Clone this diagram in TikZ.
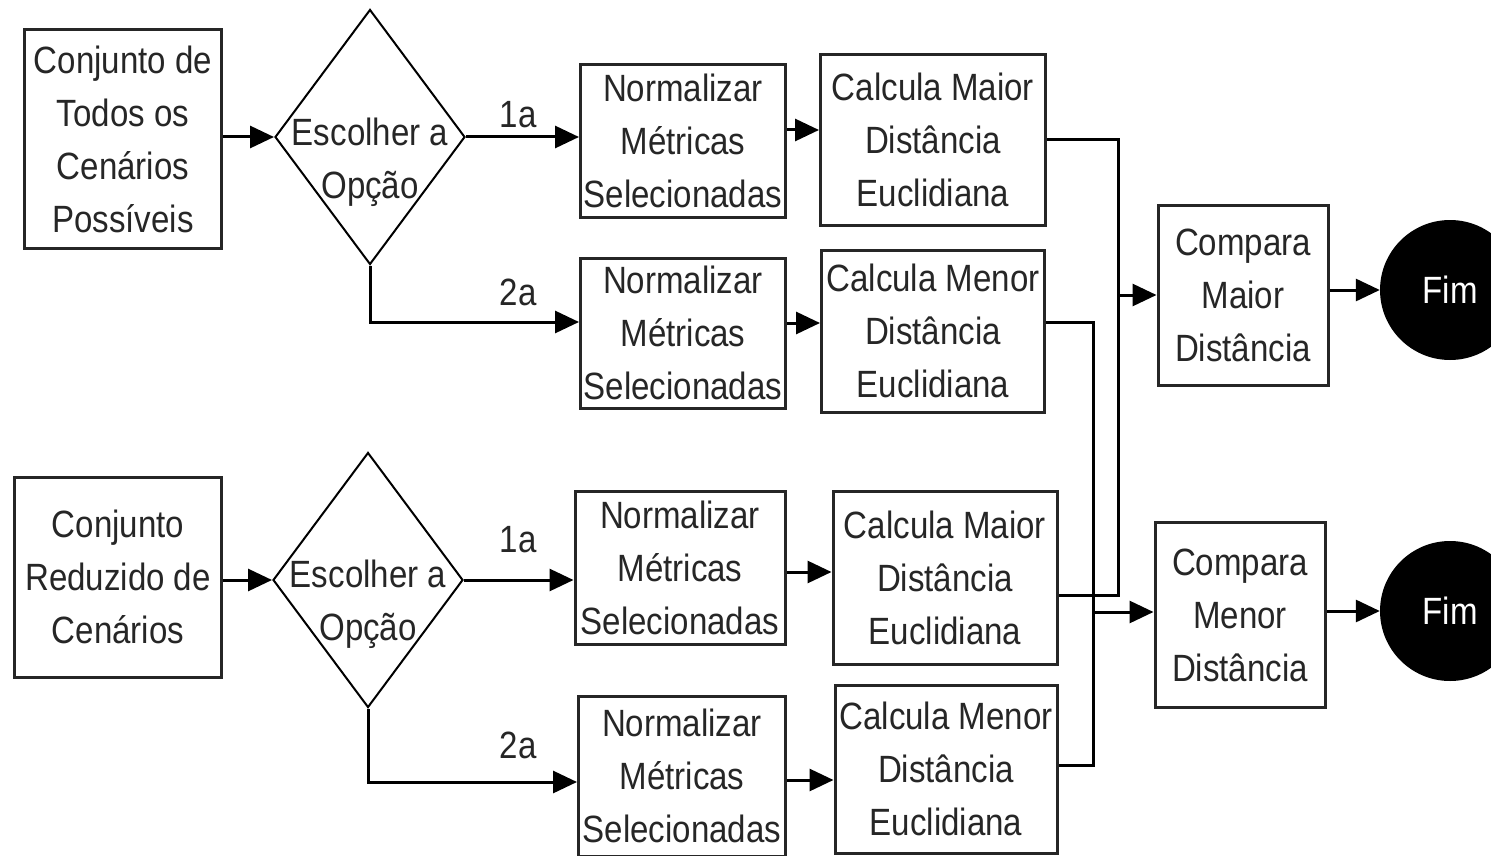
\documentclass[tikz,border=0pt]{standalone}
\usepackage{fontspec}
\setmainfont[FakeStretch=0.87]{Liberation Sans}
\usetikzlibrary{shapes.geometric,arrows.meta}
\begin{document}
\begin{tikzpicture}[x=1pt,y=-1pt,
  every node/.style={font=\fontsize{38}{53}\selectfont,text=black!85,align=center,inner sep=0pt},
  box/.style={draw=black!85,line width=3pt,fill=white},
  choice/.style={diamond,draw=black,line width=2pt,minimum width=190pt,minimum height=255pt},
  fim/.style={circle,fill=black,text=white,minimum size=140pt},
  line/.style={draw=black,line width=3pt},
  arr/.style={line,-{Triangle[length=24pt,width=22pt]}}]
\useasboundingbox (0,0) rectangle (1491,856);

% upper branch
\node[box,minimum width=197pt,minimum height=218pt] (a1) at (123,139) {Conjunto de\\Todos os\\Cenários\\Possíveis};
\node[choice] (d1) at (370,137) {};
\node (d1t) at (370,162) {Escolher a\\Opção};
\node[box,minimum width=205pt,minimum height=153pt] (n1) at (683,141) {Normalizar\\Métricas\\Selecionadas};
\node[box,minimum width=225pt,minimum height=170pt] (c1) at (933,140) {Calcula Maior\\Distância\\Euclidiana};
\node[box,minimum width=205pt,minimum height=150pt] (n2) at (683,333) {Normalizar\\Métricas\\Selecionadas};
\node[box,minimum width=223pt,minimum height=162pt] (c2) at (933,331) {Calcula Menor\\Distância\\Euclidiana};
\node (l1) at (518,115) {1a};
\node (l2) at (518,292) {2a};

% lower branch
\node[box,minimum width=207pt,minimum height=200pt] (a2) at (118,577) {Conjunto\\Reduzido de\\Cenários};
\node[choice] (d2) at (368,580) {};
\node (d2t) at (368,604) {Escolher a\\Opção};
\node[box,minimum width=210pt,minimum height=153pt] (n3) at (680,568) {Normalizar\\Métricas\\Selecionadas};
\node[box,minimum width=224pt,minimum height=173pt] (c3) at (945,578) {Calcula Maior\\Distância\\Euclidiana};
\node[box,minimum width=207pt,minimum height=160pt] (n4) at (682,776) {Normalizar\\Métricas\\Selecionadas};
\node[box,minimum width=222pt,minimum height=168pt] (c4) at (946,769) {Calcula Menor\\Distância\\Euclidiana};
\node (l3) at (518,540) {1a};
\node (l4) at (518,745) {2a};

% comparisons
\node[box,minimum width=170pt,minimum height=180pt] (cm1) at (1243,295) {Compara\\Maior\\Distância};
\node[box,minimum width=170pt,minimum height=185pt] (cm2) at (1240,615) {Compara\\Menor\\Distância};
\node[fim] (f1) at (1450,290) {Fim};
\node[fim] (f2) at (1450,611) {Fim};
\coordinate (jmax) at (1118,295);
\coordinate (jmin) at (1093,612);

% connectors
\draw[arr] (a1.east |- d1.west) -- (d1.west);
\draw[arr] (d1.east) -- (d1.east -| n1.west);
\draw[arr] (d1.south) |- ([yshift=11pt]n2.west);
\draw[arr] ([yshift=11pt]n1.east) -- ([yshift=11pt]n1.east -| c1.west);
\draw[arr] ([yshift=10pt]n2.east) -- ([yshift=10pt]n2.east -| c2.west);
\draw[arr] (a2.east |- d2.west) -- (d2.west);
\draw[arr] (d2.east) -- (d2.east -| n3.west);
\draw[arr] (d2.south) |- ([yshift=-6pt]n4.west);
\draw[arr] ([yshift=-4pt]n3.east) -- ([yshift=-4pt]n3.east -| c3.west);
\draw[arr] ([yshift=-4pt]n4.east) -- ([yshift=-4pt]n4.east -| c4.west);
\draw[line] (c1.east) -| (jmax) |- ([yshift=-17pt]c3.east);
\draw[line] ([yshift=9pt]c2.east) -| (jmin) |- ([yshift=4pt]c4.east);
\draw[arr] (jmax) -- (jmax -| cm1.west);
\draw[arr] (jmin) -- (jmin -| cm2.west);
\draw[arr] (cm1.east |- f1.west) -- (f1.west);
\draw[arr] (cm2.east |- f2.west) -- (f2.west);
\end{tikzpicture}
\end{document}
